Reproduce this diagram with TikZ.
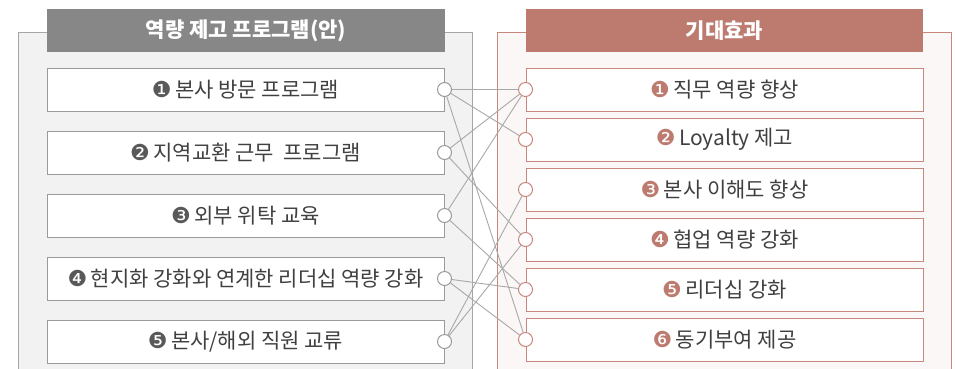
\documentclass[tikz,border=0pt]{standalone}
\usepackage{fontspec}
\setmainfont{Noto Sans CJK KR}
\newfontfamily\bulletfont{DejaVu Sans}
\usetikzlibrary{positioning}

\definecolor{headgrey}{HTML}{878787}
\definecolor{panelgrey}{HTML}{A6A6A6}
\definecolor{panelfill}{HTML}{F2F2F2}
\definecolor{boxgrey}{HTML}{9A9A9A}
\definecolor{headrose}{HTML}{BD7B70}
\definecolor{panelrose}{HTML}{C8877D}
\definecolor{rosefill}{HTML}{FBF7F6}
\definecolor{linegrey}{HTML}{A8A8A8}
\definecolor{txt}{HTML}{404040}

\newcommand{\lnum}[1]{{\bulletfont\fontsize{22}{22}\selectfont\color{black!65}#1}\,}
\newcommand{\rnum}[1]{{\bulletfont\fontsize{22}{22}\selectfont\color{headrose}#1}\,}

\begin{document}
\begin{tikzpicture}[x=1pt,y=-1pt,node distance=19pt,
    lbox/.style={draw=boxgrey,fill=white,line width=1pt,minimum width=397pt,minimum height=43pt,inner sep=0pt,text=txt,font=\fontsize{21}{23}\selectfont},
    rbox/.style={lbox,draw=panelrose},
    lhead/.style={fill=headgrey,minimum width=398pt,minimum height=43pt,inner sep=0pt,text=white,font=\fontsize{21}{23}\selectfont\bfseries},
    rhead/.style={lhead,fill=headrose,minimum width=397pt},
    ldot/.style={circle,draw=boxgrey,fill=white,line width=1pt,minimum size=14pt,inner sep=0pt},
    rdot/.style={ldot,draw=panelrose},
    link/.style={draw=linegrey,line width=0.9pt}]
    \clip (0,0) rectangle (955,368);

    % panels
    \draw[draw=panelgrey,fill=panelfill,line width=1pt] (18,32) rectangle (472,390);
    \draw[draw=panelrose,fill=rosefill,line width=1pt] (497,32) rectangle (951,390);
    \node[lhead] (lhd) at (246,30.5) {역량 제고 프로그램(안)};
    \node[rhead] (rhd) at (724.5,30.5) {기대효과};

    % programmes
    \node[lbox]                (p1) at (245.5,89.5) {\lnum{❶}본사 방문 프로그램};
    \node[lbox,below=of p1]    (p2) {\lnum{❷}지역교환 근무~~프로그램};
    \node[lbox,below=of p2]    (p3) {\lnum{❸}외부 위탁 교육};
    \node[lbox,below=of p3]    (p4) {\lnum{❹}현지화 강화와 연계한 리더십 역량 강화};
    \node[lbox,below=of p4]    (p5) {\lnum{❺}본사/해외 직원 교류};

    % effects
    \node[rbox]                (e1) at (724.5,89.5) {\rnum{❶}직무 역량 향상};
    \node[rbox,below=6pt of e1] (e2) {\rnum{❷}Loyalty 제고};
    \node[rbox,below=6pt of e2] (e3) {\rnum{❸}본사 이해도 향상};
    \node[rbox,below=6pt of e3] (e4) {\rnum{❹}협업 역량 강화};
    \node[rbox,below=6pt of e4] (e5) {\rnum{❺}리더십 강화};
    \node[rbox,below=6pt of e5] (e6) {\rnum{❻}동기부여 제공};

    \foreach \i in {1,...,5}
      \node[ldot] (a\i) at (p\i.east) {};
    \foreach \i in {1,...,6}
      \node[rdot] (b\i) at (e\i.west) {};

    \path[link] (a1) edge (b1) edge (b2) edge (b6);
    \path[link] (a2) edge (b1) edge (b4);
    \path[link] (a3) edge (b1) edge (b5);
    \path[link] (a4) edge (b5) edge (b6);
    \path[link] (a5) edge (b3) edge (b4);
\end{tikzpicture}
\end{document}
